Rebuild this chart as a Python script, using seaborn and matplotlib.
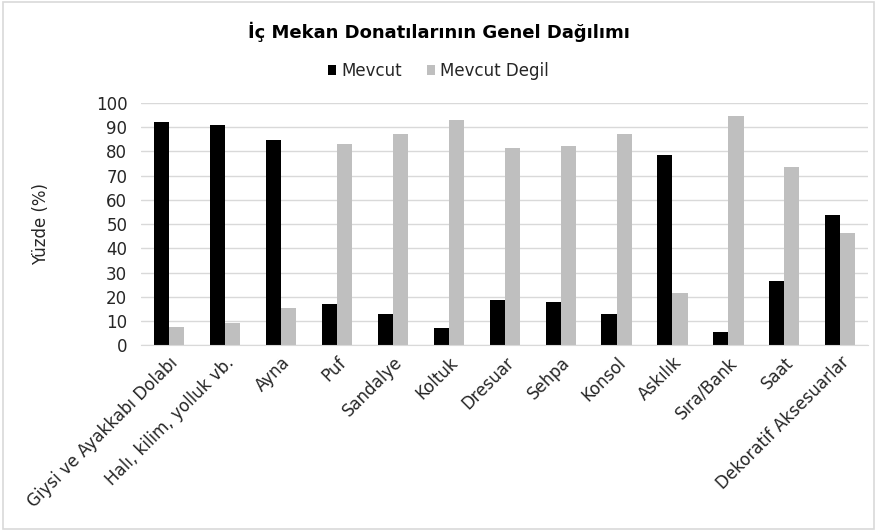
import pandas as pd
import seaborn as sns
import matplotlib.pyplot as plt
from matplotlib.patches import Rectangle

# values (percent)
categories = ['Giysi ve Ayakkabı Dolabı', 'Halı, kilim, yolluk vb.', 'Ayna', 'Puf', 'Sandalye',
              'Koltuk', 'Dresuar', 'Sehpa', 'Konsol', 'Askılık', 'Sıra/Bank', 'Saat',
              'Dekoratif Aksesuarlar']
mevcut = [92.3, 91.0, 84.6, 17.0, 13.0, 6.9, 18.5, 17.8, 13.0, 78.6, 5.4, 26.3, 53.8]
mevcut_degil = [7.7, 9.0, 15.4, 83.0, 87.0, 93.1, 81.5, 82.2, 87.0, 21.4, 94.6, 73.7, 46.2]
series_names = ['Mevcut', 'Mevcut Degil']
colors = ['#000000', '#bfbfbf']

df = pd.DataFrame({'Kategori': categories * 2,
                   'Durum': [series_names[0]] * len(categories) + [series_names[1]] * len(categories),
                   'Yuzde': mevcut + mevcut_degil})

sns.set_style('white')
plt.rcParams['font.family'] = ['DejaVu Sans']

fig = plt.figure(figsize=(8.77, 5.31), dpi=100)
ax = fig.add_axes([0.161, 0.350, 0.829, 0.456])

sns.barplot(data=df, x='Kategori', y='Yuzde', hue='Durum', palette=colors,
            width=0.54, gap=0, saturation=1, linewidth=0, ax=ax, legend=True)

ax.set_ylim(0, 100)
ax.set_yticks(range(0, 101, 10))
ax.set_xlim(-0.5, len(categories) - 0.5)
ax.yaxis.grid(True, color='#d9d9d9', linewidth=1)
ax.set_axisbelow(True)
for s in ['top', 'right', 'left']:
    ax.spines[s].set_visible(False)
ax.spines['bottom'].set_color('#d9d9d9')
ax.tick_params(axis='both', length=0, labelsize=12, colors='#262626')
ax.tick_params(axis='y', pad=10)
ax.tick_params(axis='x', pad=6)
plt.setp(ax.get_xticklabels(), rotation=45, ha='right', rotation_mode='anchor')
ax.set_xlabel('')
ax.set_ylabel('Yüzde (%)', fontsize=12, color='#262626', labelpad=33)

ax.legend(loc='center', bbox_to_anchor=(0.5, 0.866), bbox_transform=fig.transFigure,
          ncol=2, frameon=False, fontsize=12, handlelength=0.5, handleheight=0.5,
          handletextpad=0.3, columnspacing=1.5)

fig.text(0.5, 0.94, 'İç Mekan Donatılarının Genel Dağılımı', ha='center', va='center',
         fontsize=13, fontweight='bold', color='#000000')

fig.patches.append(Rectangle((0.003, 0.004), 0.994, 0.992, transform=fig.transFigure,
                             fill=False, edgecolor='#d9d9d9', linewidth=1.2))

fig.savefig('out.png', dpi=100)
